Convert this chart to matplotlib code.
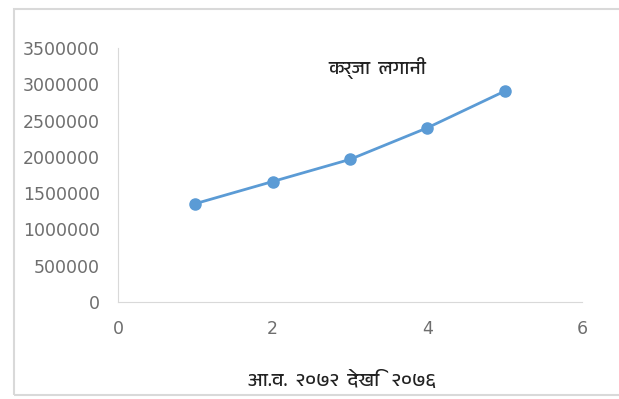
import numpy as np
import matplotlib
matplotlib.use("Agg")
import matplotlib.pyplot as plt
from matplotlib import font_manager
from matplotlib.patches import Rectangle

# --- Dados ---
anos = [1, 2, 3, 4, 5]
karja_lagani = [1355000, 1660000, 1965000, 2400000, 2905000]
titulo = "कर्जा  लगानी"
rotulo_x = "आ.व.  २०७२  देखि   २०७६"

# procura uma fonte com devanagari, se houver
fonte_dev = None
for f in font_manager.fontManager.ttflist:
    nome = f.name.lower()
    if "devanagari" in nome or "lohit" in nome or "mukta" in nome or "hind" in nome:
        fonte_dev = f.name
        break
familias = ([fonte_dev] if fonte_dev else []) + ["DejaVu Sans"]

cor = "#5b9bd5"
cinza_txt = "#6e6e6e"

fig = plt.figure(figsize=(6.19, 3.99), dpi=100)
ax = fig.add_axes([118 / 619, 1 - 302 / 399, (582 - 118) / 619, (302 - 48) / 399])

ax.plot(anos, karja_lagani, "-o", color=cor, linewidth=2, markersize=8)

ax.set_xlim(0, 6)
ax.set_ylim(0, 3500000)
ax.set_xticks([0, 2, 4, 6])
ax.set_yticks(np.arange(0, 3500001, 500000))
ax.ticklabel_format(style="plain", axis="y")

for lado in ["top", "right"]:
    ax.spines[lado].set_visible(False)
for lado in ["left", "bottom"]:
    ax.spines[lado].set_color("#d9d9d9")
ax.tick_params(length=0, labelsize=12.5, colors=cinza_txt)
ax.tick_params(axis="y", pad=13)
ax.tick_params(axis="x", pad=13)

ax.text(3.35, 3230000, titulo, family=familias, fontsize=14, color="#222222", ha="center", va="center")
fig.text(342 / 619, 1 - 380 / 399, rotulo_x, family=familias, fontsize=14, color="#222222", ha="center", va="center")

# moldura do gráfico
fig.patches.append(Rectangle((14 / 619, 4 / 399), 1.2, 1 - 13 / 399, transform=fig.transFigure,
                             fill=False, edgecolor="#d9d9d9", linewidth=1.5))

fig.savefig("out.png", dpi=100)
